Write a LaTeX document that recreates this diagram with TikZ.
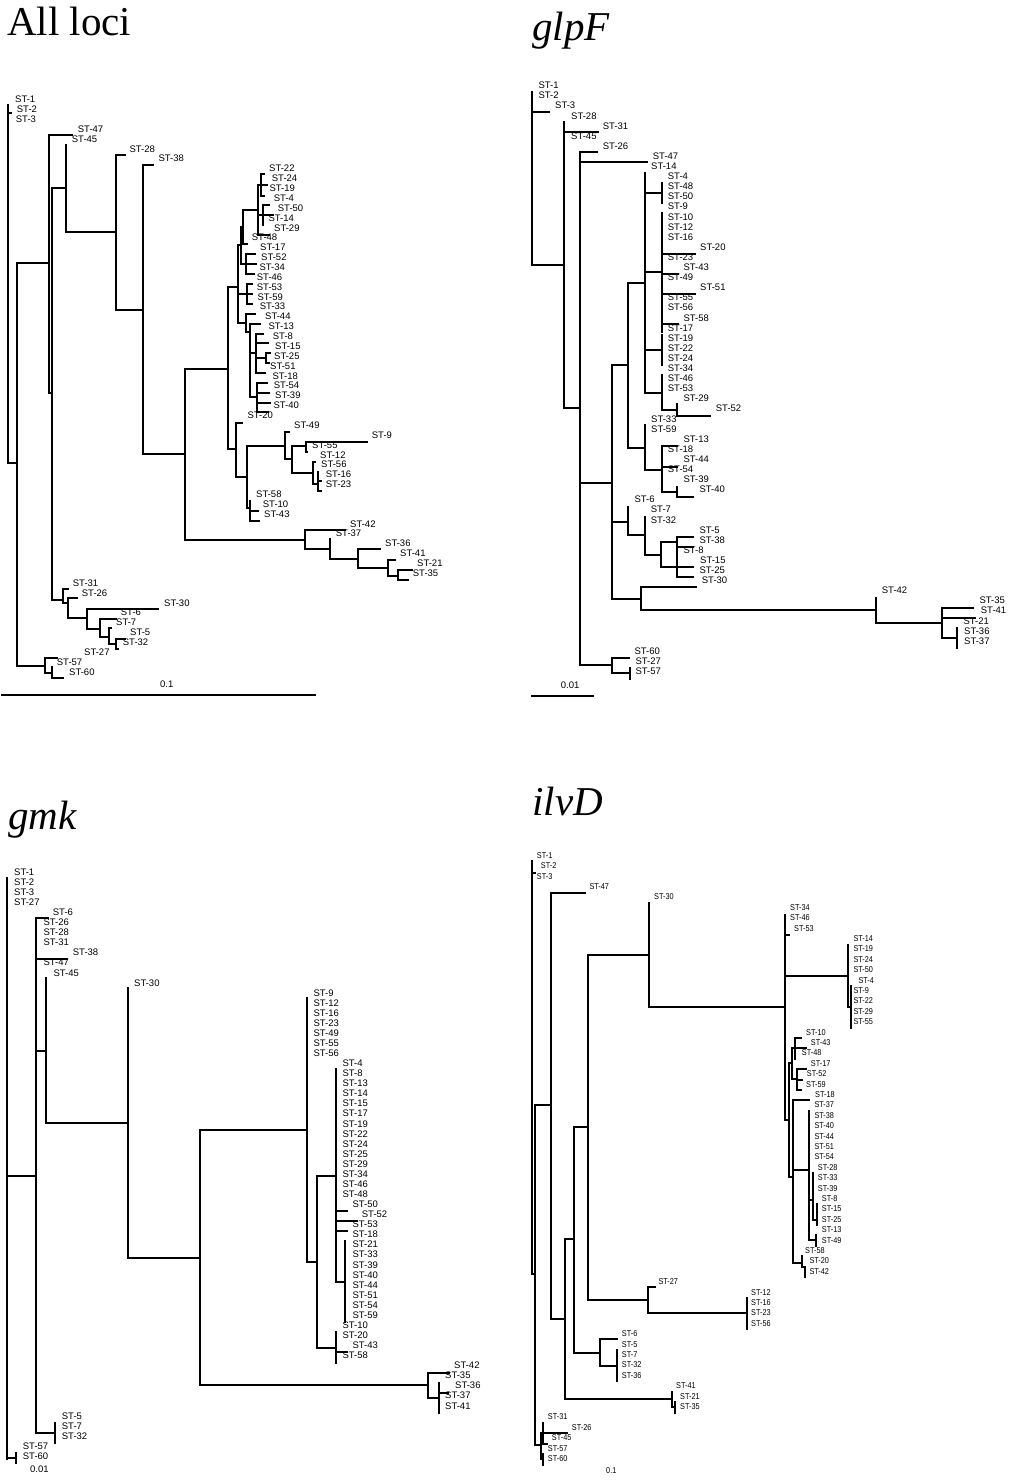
\documentclass[tikz,border=0pt]{standalone}
\usepackage{fontspec}
\newfontfamily\labfont{Liberation Sans}
\newfontfamily\narrowfont[FakeStretch=0.86]{Liberation Sans}
\newfontfamily\ttlfont{Liberation Serif}
\tikzset{
  br/.style={line width=1.3pt, line cap=rect},
  lab/.style={font=\labfont\fontsize{9.5}{9.5}\selectfont, anchor=base west, inner sep=0pt},
  labn/.style={lab, font=\narrowfont\fontsize{8.5}{8.5}\selectfont},
  ttl/.style={font=\ttlfont\fontsize{41}{41}\selectfont, anchor=base west, inner sep=0pt},
  ttli/.style={ttl, font=\ttlfont\fontsize{41}{41}\selectfont\itshape}
}
\begin{document}
\begin{tikzpicture}[x=1pt, y=-1pt]
  \useasboundingbox (0,0) rectangle (1009,1480);
  \node[ttl] (a-title) at (7,36) {All loci};
  \node[ttli] (b-title) at (532,41) {glpF};
  \node[ttli] (c-title) at (8,829) {gmk};
  \node[ttli] (d-title) at (532,815) {ilvD};
  % all loci
  \foreach \t/\x [count=\i from 0] in {1/15, 2/16.7, 3/15.7, 47/77.7, 45/71.7, 28/129.3, 38/158.3, 22/269, 24/271.7, 19/269.3,
      4/273.7, 50/277.7, 14/268.3, 29/274, 48/251.7, 17/260, 52/261, 34/259.3, 46/256.7, 53/256.7, 59/257.3, 33/259.7,
      44/265, 13/268.3, 8/272.7, 15/275, 25/274, 51/270, 18/272.3, 54/273.7, 39/275, 40/273.3, 20/247.3, 49/294, 9/371.7,
      55/312, 12/320, 56/321, 16/325.7, 23/325.7, 58/256, 10/262.7, 43/264, 42/350, 37/335.7, 36/385, 41/400, 21/417,
      35/412.7, 31/72.7, 26/81.7, 30/164, 6/120.7, 7/116, 5/130, 32/122.7, 27/84, 57/56.7, 60/69}
    \node[lab] (a-\t) at (\x,{102.7+9.87*\i}) {ST-\t};
  \draw[br] (11,113) -- (8,113) (8,105) -- (8,463) -- (17,463);
  \draw[br] (17,263) -- (17,666) (17,263) -- (49,263);
  \draw[br] (72,135) -- (49,135) -- (49,393) -- (52,393);
  \draw[br] (66,188) -- (52,188) -- (52,600) -- (63,600);
  \draw[br] (66,145) -- (66,232) -- (116,232);
  \draw[br] (125,155) -- (116,155) -- (116,310) -- (143,310);
  \draw[br] (153,165) -- (143,165) -- (143,454) -- (185,454);
  \draw[br] (228,369) -- (185,369) -- (185,540) -- (305,540);
  \draw[br] (238,287) -- (228,287) -- (228,449) -- (236,449);
  \draw[br] (238,245) -- (238,323) (238,245) -- (241,245) (238,294) -- (247,294) (238,323) -- (246,323);
  \draw[br] (241,227) -- (241,264) (241,227) -- (243,227) (241,264) -- (246,264);
  \draw[br] (243,210) -- (243,244) (243,210) -- (258,210) (243,244) -- (247,244);
  \draw[br] (258,185) -- (258,235) (258,185) -- (261,185) (258,215) -- (263,215) (258,235) -- (269,235);
  \draw[br] (261,174) -- (261,196) (261,174) -- (264,174) (261,185) -- (267,185) (261,196) -- (264,196);
  \draw[br] (263,205) -- (263,225) (263,205) -- (269,205) (263,215) -- (273,215);
  \draw[br] (246,254) -- (246,274) (246,254) -- (255,254) (246,264) -- (256,264) (246,274) -- (254,274);
  \draw[br] (247,284) -- (247,304) (247,284) -- (252,284) (247,294) -- (252,294) (247,304) -- (252,304);
  \draw[br] (255,314) -- (246,314) -- (246,332) -- (250,332);
  \draw[br] (250,324) -- (250,397) (250,324) -- (260,324) (250,353) -- (256,353) (250,397) -- (257,397);
  \draw[br] (256,334) -- (256,373) (256,334) -- (263,334) (256,343) -- (268,343) (256,358) -- (266,358) (256,373) -- (265,373);
  \draw[br] (266,353) -- (266,363) (266,353) -- (270,353) (266,363) -- (269,363);
  \draw[br] (257,383) -- (257,412) (257,383) -- (267,383) (257,393) -- (269,393) (257,403) -- (270,403) (257,412) -- (268,412);
  \draw[br] (242,423) -- (236,423) -- (236,477) -- (247,477);
  \draw[br] (285,446) -- (247,446) -- (247,508) -- (250,508);
  \draw[br] (289,432) -- (285,432) -- (285,459) -- (292,459);
  \draw[br] (306,446) -- (292,446) -- (292,473) -- (313,473);
  \draw[br] (367,442) -- (306,442) -- (306,452) -- (307,452);
  \draw[br] (315,462) -- (313,462) -- (313,484) -- (318,484);
  \draw[br] (318,472) -- (318,491) (318,481) -- (321,481) (318,491) -- (321,491);
  \draw[br] (250,501) -- (250,521) (250,511) -- (258,511) (250,521) -- (259,521);
  \draw[br] (345,530) -- (305,530) -- (305,549) -- (330,549);
  \draw[br] (330,539) -- (330,559) -- (358,559);
  \draw[br] (380,549) -- (358,549) -- (358,568) -- (388,568);
  \draw[br] (395,560) -- (388,560) -- (388,576) -- (398,576);
  \draw[br] (412,570) -- (398,570) -- (398,580) -- (408,580);
  \draw[br] (68,589) -- (63,589) -- (63,603) -- (68,603);
  \draw[br] (77,598) -- (68,598) -- (68,618) -- (87,618);
  \draw[br] (158,609) -- (87,609) -- (87,629) -- (100,629);
  \draw[br] (116,619) -- (100,619) -- (100,637) -- (109,637);
  \draw[br] (111,628) -- (109,628) -- (109,644) -- (116,644);
  \draw[br] (125,639) -- (116,639) -- (116,649) -- (118,649);
  \draw[br] (17,666) -- (45,666) (57,658) -- (45,658) -- (45,673) -- (52,673);
  \draw[br] (52,667) -- (52,678) -- (63,678);
  \draw[br] (2,695) -- (315,695);
  \node[lab] (a-scale) at (160,687.7) {0.1};
  % glpF
  \foreach \t/\x [count=\i from 0] in {1/538.3, 2/538.3, 3/555, 28/571, 31/602.7, 45/571, 26/602.7, 47/652.7, 14/651,
      4/667.7, 48/667.7, 50/667.7, 9/667.7, 10/667.7, 12/667.7, 16/667.7, 20/700, 23/667.7, 43/683.3, 49/667.7, 51/700,
      55/667.7, 56/667.7, 58/683.3, 17/667.7, 19/667.7, 22/667.7, 24/667.7, 34/667.7, 46/667.7, 53/667.7, 29/683.3,
      52/715.7, 33/651, 59/651, 13/683.3, 18/667.7, 44/683.3, 54/667.7, 39/683.3, 40/699.3, 6/634.3, 7/650.7, 32/650.7,
      5/699.3, 38/699.3, 8/683.3, 15/700, 25/699.3, 30/701.7, 42/881.7, 35/979.3, 41/980.7, 21/963.3, 36/964, 37/964,
      60/634.3, 27/635.3, 57/635.3}
    \node[lab] (b-\t) at (\x,{88.7+10.1*\i}) {ST-\t};
  \draw[br] (532,92) -- (532,265) -- (564,265) (532,112) -- (549,112);
  \draw[br] (564,122) -- (564,408) -- (580,408) (564,132) -- (598,132);
  \draw[br] (597,152) -- (580,152) -- (580,665) -- (612,665) (580,162) -- (647,162) (580,483) -- (612,483);
  \draw[br] (628,365) -- (612,365) -- (612,599) -- (641,599) (612,522) -- (628,522);
  \draw[br] (645,283) -- (628,283) -- (628,448) -- (645,448);
  \draw[br] (645,173) -- (645,393) -- (662,393) (645,193) -- (662,193) (645,272) -- (662,272) (645,350) -- (662,350);
  \draw[br] (662,183) -- (662,203) (662,213) -- (662,332) (662,335) -- (662,365) (662,375) -- (662,410);
  \draw[br] (662,254) -- (695,254) (662,274) -- (678,274) (662,294) -- (695,294) (662,324) -- (678,324);
  \draw[br] (662,410) -- (677,410) (677,404) -- (677,416) -- (710,416);
  \draw[br] (645,425) -- (645,470) -- (662,470);
  \draw[br] (677,446) -- (662,446) -- (662,492) -- (677,492) (662,467) -- (677,467);
  \draw[br] (677,487) -- (677,497) -- (693,497);
  \draw[br] (628,507) -- (628,535) -- (645,535);
  \draw[br] (645,517) -- (645,555) -- (661,555);
  \draw[br] (677,542) -- (661,542) -- (661,567) -- (677,567);
  \draw[br] (693,537) -- (677,537) -- (677,556) (677,547) -- (693,547);
  \draw[br] (677,557) -- (677,577) -- (693,577) (677,567) -- (693,567);
  \draw[br] (696,587) -- (641,587) -- (641,610) -- (876,610);
  \draw[br] (876,598) -- (876,623) -- (942,623);
  \draw[br] (973,608) -- (942,608) -- (942,638) -- (957,638) (942,618) -- (975,618);
  \draw[br] (957,628) -- (957,648);
  \draw[br] (629,658) -- (612,658) -- (612,673) -- (630,673);
  \draw[br] (630,668) -- (630,679);
  \draw[br] (532,696) -- (593,696);
  \node[lab] (b-scale) at (560.7,688.3) {0.01};
  % gmk
  \foreach \t/\x [count=\i from 0] in {1/14, 2/14, 3/14, 27/14, 6/52.7, 26/43.3, 28/43.3, 31/43.3, 38/72.7, 47/43.3,
      45/53.3, 30/134, 9/313.3, 12/313.3, 16/313.3, 23/313.3, 49/313.3, 55/313.3, 56/313.3, 4/342.3, 8/342.3, 13/342.3,
      14/342.3, 15/342.3, 17/342.3, 19/342.3, 22/342.3, 24/342.3, 25/342.3, 29/342.3, 34/342.3, 46/342.3, 48/342.3,
      50/352.3, 52/361.7, 53/352.3, 18/352.3, 21/352.3, 33/352.3, 39/352.3, 40/352.3, 44/352.3, 51/352.3, 54/352.3,
      59/352.3, 10/342.3, 20/342.3, 43/352.3, 58/342.3, 42/454, 35/445, 36/455, 37/445, 41/445, 5/61.7, 7/61.7,
      32/61.7, 57/22.7, 60/22.7}
    \node[lab] (c-\t) at (\x,{875.3+10.07*\i}) {ST-\t};
  \draw[br] (7,878) -- (7,1459) (7,1176) -- (36,1176) (7,1458) -- (16,1458);
  \draw[br] (16,1453) -- (16,1463);
  \draw[br] (48,918) -- (36,918) -- (36,1433) -- (55,1433) (36,959) -- (67,959) (36,1051) -- (46,1051);
  \draw[br] (46,978) -- (46,1123) -- (128,1123);
  \draw[br] (128,988) -- (128,1258) -- (200,1258);
  \draw[br] (307,1130) -- (200,1130) -- (200,1385) -- (428,1385);
  \draw[br] (307,998) -- (307,1262) -- (317,1262);
  \draw[br] (336,1176) -- (317,1176) -- (317,1348) -- (336,1348);
  \draw[br] (336,1069) -- (336,1282) -- (345,1282) (336,1211) -- (347,1211) (336,1221) -- (357,1221) (336,1231) -- (347,1231);
  \draw[br] (345,1241) -- (345,1322);
  \draw[br] (336,1332) -- (336,1363) (336,1352) -- (347,1352);
  \draw[br] (449,1373) -- (428,1373) -- (428,1398) -- (439,1398);
  \draw[br] (439,1383) -- (439,1413) (439,1393) -- (448,1393);
  \draw[br] (55,1423) -- (55,1443);
  \node[lab] (c-scale) at (30,1472.7) {0.01};
  % ilvD
  \foreach \t/\x [count=\i from 0] in {1/536.7, 2/540.7, 3/536.7, 47/589.3, 30/654, 34/790, 46/790, 53/794, 14/853.3,
      19/853.3, 24/853.3, 50/853.3, 4/858.3, 9/853.3, 22/853.3, 29/853.3, 55/853.3, 10/806, 43/810.7, 48/801.7,
      17/810.7, 52/806.7, 59/806, 18/815, 37/814.3, 38/814.3, 40/814.3, 44/814.3, 51/814.3, 54/814.3, 28/817.7,
      33/817.7, 39/817.7, 8/821.7, 15/821.7, 25/821.7, 13/821.7, 49/821.7, 58/805, 20/809.3, 42/809.3, 27/658.3,
      12/751, 16/751, 23/751, 56/751, 6/621.7, 5/621.7, 7/621.7, 32/621.7, 36/621.7, 41/676, 21/680, 35/680,
      31/547.7, 26/571.7, 45/551.7, 57/547.7, 60/547.7}
    \node[labn] (d-\t) at (\x,{858.3+10.4*\i}) {ST-\t};
  \draw[br] (532,861) -- (532,1274) -- (535,1274) (532,873) -- (535,873);
  \draw[br] (551,1105) -- (535,1105) -- (535,1445) -- (541,1445);
  \draw[br] (585,893) -- (551,893) -- (551,1319) -- (565,1319);
  \draw[br] (574,1239) -- (565,1239) -- (565,1399) -- (672,1399);
  \draw[br] (588,1127) -- (574,1127) -- (574,1353) -- (600,1353);
  \draw[br] (649,955) -- (588,955) -- (588,1300) -- (648,1300);
  \draw[br] (649,903) -- (649,1007) -- (785,1007);
  \draw[br] (785,915) -- (785,1120) -- (789,1120) (785,935) -- (789,935) (785,976) -- (848,976);
  \draw[br] (848,945) -- (848,1007) -- (851,1007);
  \draw[br] (851,986) -- (851,1028);
  \draw[br] (792,1063) -- (789,1063) -- (789,1177) -- (793,1177);
  \draw[br] (795,1048) -- (792,1048) -- (792,1079) -- (797,1079);
  \draw[br] (795,1038) -- (795,1059) (795,1038) -- (801,1038) (795,1048) -- (806,1048);
  \draw[br] (797,1069) -- (797,1090) (797,1069) -- (806,1069) (797,1080) -- (802,1080) (797,1090) -- (801,1090);
  \draw[br] (809,1100) -- (793,1100) -- (793,1263) -- (802,1263) (793,1170) -- (809,1170);
  \draw[br] (809,1111) -- (809,1240) -- (816,1240) (809,1200) -- (813,1200);
  \draw[br] (813,1173) -- (813,1220) -- (817,1220);
  \draw[br] (817,1204) -- (817,1225);
  \draw[br] (816,1235) -- (816,1246);
  \draw[br] (802,1256) -- (802,1267) -- (805,1267) -- (805,1277);
  \draw[br] (655,1287) -- (648,1287) -- (648,1313) -- (747,1313);
  \draw[br] (747,1298) -- (747,1329);
  \draw[br] (617,1339) -- (600,1339) -- (600,1366) -- (617,1366);
  \draw[br] (617,1350) -- (617,1381);
  \draw[br] (672,1392) -- (672,1407) -- (675,1407) (675,1402) -- (675,1413);
  \draw[br] (543,1433) -- (541,1433) -- (541,1459) -- (543,1459);
  \draw[br] (543,1423) -- (543,1444) -- (547,1444) (543,1433) -- (567,1433);
  \draw[br] (543,1454) -- (543,1465);
  \node[labn] (d-scale) at (606,1473.3) {0.1};
\end{tikzpicture}
\end{document}
